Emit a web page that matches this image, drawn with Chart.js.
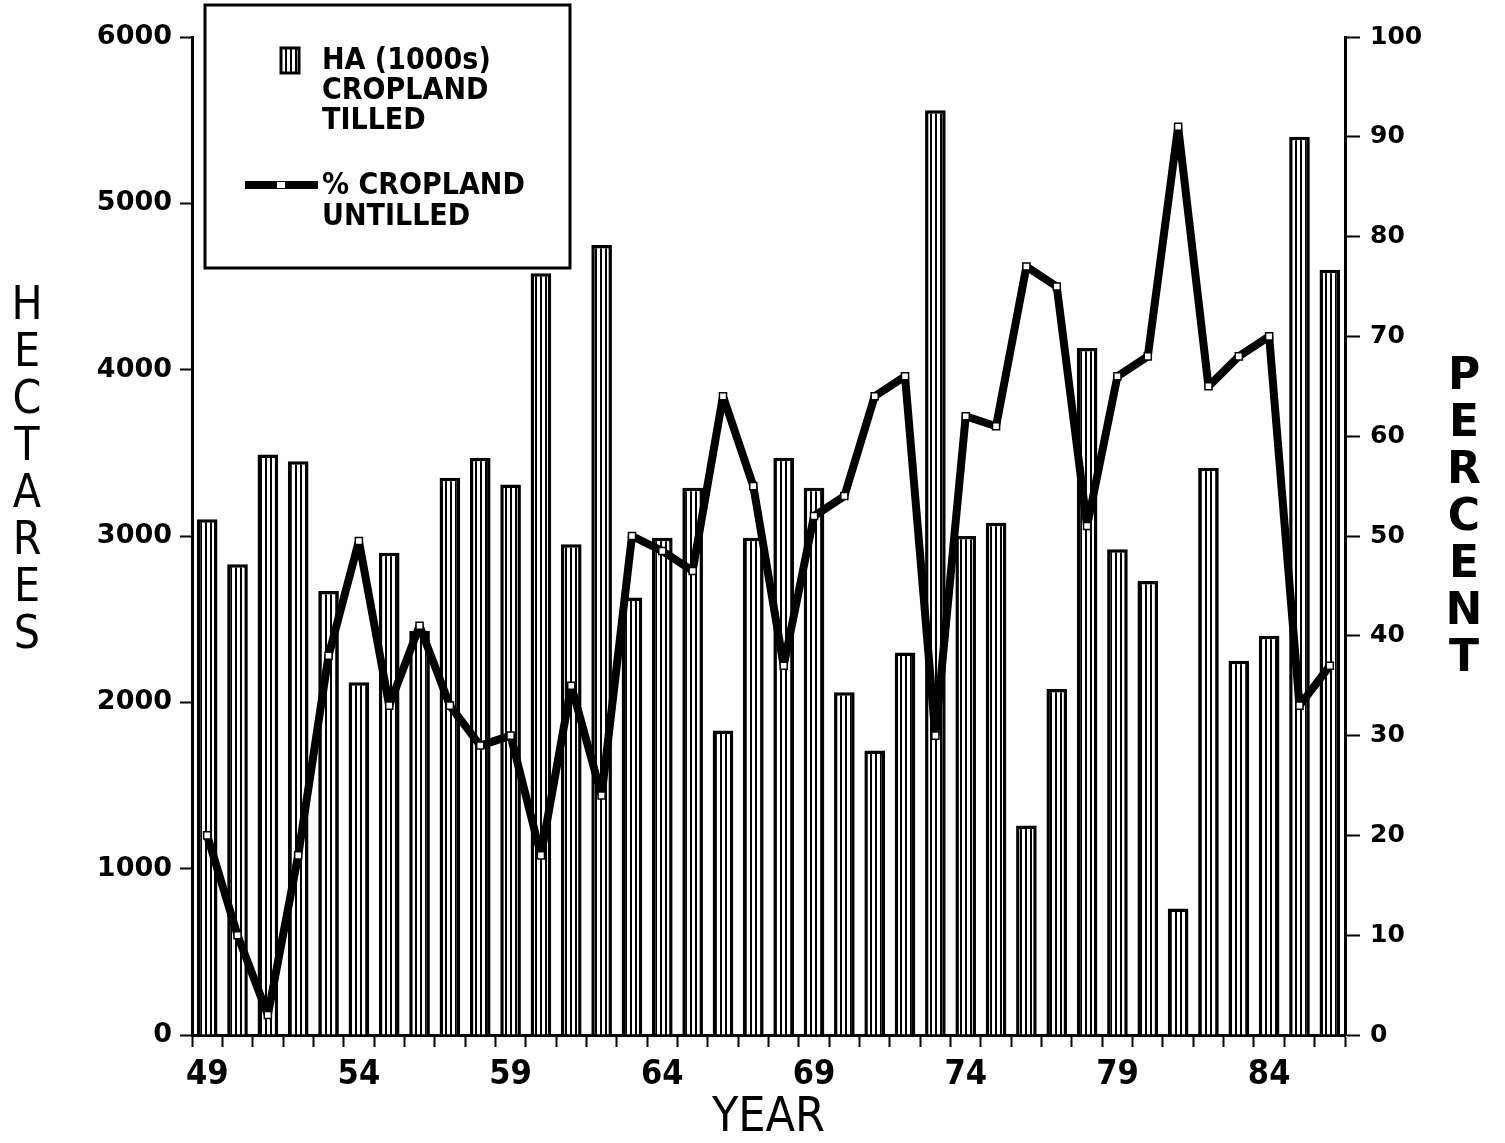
<!DOCTYPE html>
<html>
<head>
<title>Cropland tilled / untilled</title>
<script src="https://cdn.jsdelivr.net/npm/chart.js"></script>
<style>
  body { margin: 0; background: #fff; }
</style>
</head>
<body>
<canvas id="tillChart" width="1505" height="1143"></canvas>

<script>
    // years 1949-1986
    const years = ['49','50','51','52','53','54','55','56','57','58','59','60','61','62','63','64','65','66','67',
                   '68','69','70','71','72','73','74','75','76','77','78','79','80','81','82','83','84','85','86'];

    // HA (1000s) cropland tilled
    const hectares = [3100, 2830, 3490, 3450, 2670, 2120, 2900, 2430, 3350, 3470, 3310, 4580, 2950, 4750, 2630,
                      2990, 3290, 1830, 2990, 3470, 3290, 2060, 1710, 2300, 5560, 3000, 3080, 1260, 2080, 4130,
                      2920, 2730, 760, 3410, 2250, 2400, 5400, 4600];

    // % cropland untilled
    const percentUntilled = [20, 10, 2, 18, 38, 49.5, 33, 41, 33, 29, 30, 18, 35, 24, 50, 48.5, 46.5, 64, 55,
                             37, 52, 54, 64, 66, 30, 62, 61, 77, 75, 51, 66, 68, 91, 65, 68, 70, 33, 37];

    const yearLabels = ['49', '54', '59', '64', '69', '74', '79', '84'];

    const narrow = '"Liberation Sans Narrow", "DejaVu Sans Condensed", sans-serif';
    const wide = '"DejaVu Sans", sans-serif';

    const canvas = document.getElementById('tillChart');
    const ctx = canvas.getContext('2d');

    // vertical stripe fill for the bars
    function stripes() {
        const c = document.createElement('canvas');
        c.width = 5; c.height = 4;
        const g = c.getContext('2d');
        g.fillStyle = '#fff';
        g.fillRect(0, 0, 5, 4);
        g.fillStyle = '#000';
        g.fillRect(0, 0, 2, 4);
        return ctx.createPattern(c, 'repeat');
    }
    const stripeFill = stripes();

    // stacked letters for the side titles + boxed legend
    const decorations = {
        id: 'decorations',
        afterDraw(chart) {
            const g = chart.ctx;
            const area = chart.chartArea;
            g.save();
            g.fillStyle = '#000';
            g.textAlign = 'center';
            g.textBaseline = 'middle';

            g.font = '400 46px ' + narrow;
            'HECTARES'.split('').forEach((ch, i) => g.fillText(ch, 27, 307 + i * 47));
            g.font = 'bold 44px ' + wide;
            'PERCENT'.split('').forEach((ch, i) => g.fillText(ch, 1464, 378 + i * 47));

            // legend box
            const bx = area.left + 13, by = 5, bw = 365, bh = 263;
            g.fillStyle = '#fff';
            g.fillRect(bx, by, bw, bh);
            g.lineWidth = 3;
            g.strokeStyle = '#000';
            g.strokeRect(bx, by, bw, bh);

            g.fillStyle = stripeFill;
            g.fillRect(bx + 76, by + 43, 18, 25);
            g.lineWidth = 3;
            g.strokeRect(bx + 76, by + 43, 18, 25);

            g.beginPath();
            g.moveTo(bx + 40, by + 180);
            g.lineTo(bx + 113, by + 180);
            g.lineWidth = 8;
            g.stroke();
            g.fillStyle = '#fff';
            g.fillRect(bx + 72, by + 177, 8, 6);

            g.fillStyle = '#000';
            g.textAlign = 'left';
            g.font = 'bold 30px "DejaVu Sans Condensed", sans-serif';
            const tx = bx + 117;
            g.fillText('HA (1000s)', tx, by + 56);
            g.fillText('CROPLAND', tx, by + 86);
            g.fillText('TILLED', tx, by + 116);
            g.fillText('% CROPLAND', tx, by + 181);
            g.fillText('UNTILLED', tx, by + 212);
            g.restore();
        }
    };

    const chart = new Chart(canvas, {
        type: 'bar',
        data: {
            labels: years,
            datasets: [
                {
                    type: 'line',
                    label: '% CROPLAND UNTILLED',
                    data: percentUntilled,
                    yAxisID: 'pct',
                    borderColor: '#000',
                    borderWidth: 8,
                    borderJoinStyle: 'bevel',
                    tension: 0,
                    pointStyle: 'rect',
                    pointRadius: 5,
                    pointBackgroundColor: '#fff',
                    pointBorderColor: '#000',
                    pointBorderWidth: 1.5,
                    order: 0
                },
                {
                    label: 'HA (1000s) CROPLAND TILLED',
                    data: hectares,
                    yAxisID: 'ha',
                    backgroundColor: stripeFill,
                    borderColor: '#000',
                    borderWidth: 3.5,
                    categoryPercentage: 1,
                    barPercentage: 0.68,
                    order: 1
                }
            ]
        },
        options: {
            responsive: false,
            devicePixelRatio: 1,
            animation: false,
            layout: { padding: { top: 37, left: 0, right: 0, bottom: 0 } },
            plugins: {
                legend: { display: false },
                tooltip: { enabled: false }
            },
            scales: {
                x: {
                    afterFit(scale) { scale.height = 108; },
                    grid: { drawOnChartArea: false, drawTicks: true, tickLength: 12, tickWidth: 2, tickColor: '#000', offset: true },
                    border: { display: true, color: '#000', width: 3 },
                    ticks: {
                        autoSkip: false,
                        maxRotation: 0,
                        padding: 8,
                        color: '#000',
                        font: { family: narrow, size: 34, weight: 'bold' },
                        callback: function (val, i) {
                            const lbl = years[i];
                            return yearLabels.includes(lbl) ? lbl : '';
                        }
                    },
                    title: {
                        display: true,
                        text: 'YEAR',
                        color: '#000',
                        font: { family: narrow, size: 48, weight: 'normal' },
                        padding: { top: 0, bottom: -4 }
                    }
                },
                ha: {
                    position: 'left',
                    min: 0,
                    max: 6000,
                    afterFit(scale) { scale.width = 192; },
                    grid: { drawOnChartArea: false, tickLength: 12, tickWidth: 2, tickColor: '#000' },
                    border: { display: true, color: '#000', width: 3 },
                    ticks: {
                        stepSize: 1000,
                        padding: 8,
                        color: '#000',
                        font: { family: wide, size: 27, weight: 'bold' },
                        callback: (v) => String(v)
                    }
                },
                pct: {
                    position: 'right',
                    min: 0,
                    max: 100,
                    afterFit(scale) { scale.width = 160; },
                    grid: { drawOnChartArea: false, tickLength: 15, tickWidth: 2, tickColor: '#000' },
                    border: { display: true, color: '#000', width: 3 },
                    ticks: {
                        stepSize: 10,
                        padding: 10,
                        color: '#000',
                        font: { family: wide, size: 25, weight: 'bold' },
                        callback: (v) => String(v)
                    }
                }
            }
        },
        plugins: [decorations]
    });
</script>
</body>
</html>
